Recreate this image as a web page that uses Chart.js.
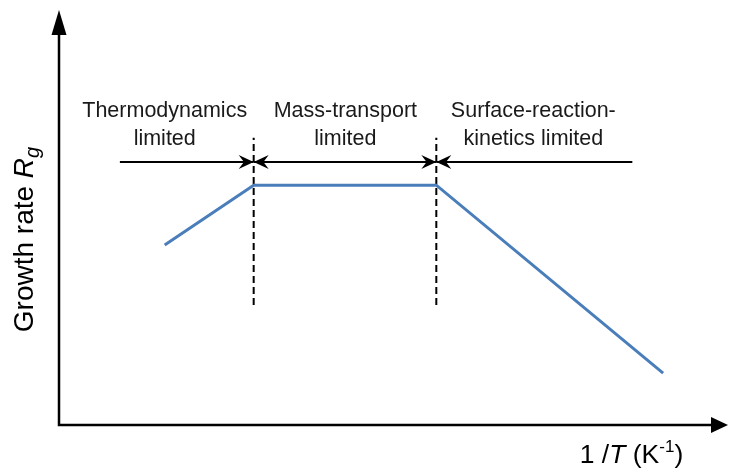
<!DOCTYPE html>
<html lang="en">

<head>
    <meta charset="UTF-8">
    <title>Growth rate regimes</title>

    <!-- Chart.js -->
    <script src="https://cdn.jsdelivr.net/npm/chart.js"></script>

    <style>
        body {
            margin: 0;
            background: #ffffff;
        }

        .chart-container {
            position: relative;
            width: 729px;
            height: 471px;
        }
    </style>
</head>

<body>
    <div class="chart-container">
        <canvas id="growthChart"></canvas>
    </div>

    <script type="text/javascript">
        // Schematic data (arbitrary units, 0..10 on both axes)
        var lineX = [1.58, 2.91, 5.64, 9.03];
        var lineY = [4.34, 5.78, 5.78, 1.25];

        // Regime boundaries (dashed verticals)
        var boundaryX = [2.91, 5.64];
        var boundaryY = [2.89, 6.92];

        // Regime labels and their arrows
        var regionLines1 = ['Thermodynamics', 'Mass-transport', 'Surface-reaction-'];
        var regionLines2 = ['limited', 'limited', 'kinetics limited'];
        var regionLabelX = [1.58, 4.28, 7.09];
        var labelRowY = [7.57, 6.89];
        var arrowFrom = [0.91, 2.91, 5.64];
        var arrowTo = [2.91, 5.64, 8.57];
        var arrowHeads = ['end', 'both', 'start'];
        var arrowY = 6.34;

        var blue = '#4a7ebb';
        var font = '"Liberation Sans", Arial, sans-serif';

        var datasets = [{
            data: lineX.map(function (x, i) { return { x: x, y: lineY[i] }; }),
            borderColor: blue,
            borderWidth: 3,
            pointRadius: 0,
            showLine: true,
            tension: 0
        }];
        boundaryX.forEach(function (bx) {
            datasets.push({
                data: [{ x: bx, y: boundaryY[0] }, { x: bx, y: boundaryY[1] }],
                borderColor: '#000000',
                borderWidth: 2,
                borderDash: [7, 4],
                pointRadius: 0,
                showLine: true
            });
        });

        // Arrowhead with a notched back, tip at (x, y), pointing along dir (+1 right / -1 left)
        function arrowHead(ctx, x, y, dir, len, half) {
            ctx.beginPath();
            ctx.moveTo(x, y);
            ctx.lineTo(x - dir * len, y - half);
            ctx.lineTo(x - dir * len * 0.65, y);
            ctx.lineTo(x - dir * len, y + half);
            ctx.closePath();
            ctx.fill();
        }

        var schematicPlugin = {
            id: 'schematic',
            afterDatasetsDraw: function (chart) {
                var ctx = chart.ctx;
                var xs = chart.scales.x;
                var ys = chart.scales.y;
                var area = chart.chartArea;
                ctx.save();
                ctx.fillStyle = '#000000';
                ctx.strokeStyle = '#000000';

                // Axes with arrows
                ctx.lineWidth = 2.5;
                ctx.beginPath();
                ctx.moveTo(area.left, area.top + 20);
                ctx.lineTo(area.left, area.bottom);
                ctx.lineTo(area.right - 15, area.bottom);
                ctx.stroke();
                ctx.beginPath();
                ctx.moveTo(area.left, area.top);
                ctx.lineTo(area.left - 7.5, area.top + 25);
                ctx.lineTo(area.left + 7.5, area.top + 25);
                ctx.closePath();
                ctx.fill();
                ctx.beginPath();
                ctx.moveTo(area.right, area.bottom);
                ctx.lineTo(area.right - 17, area.bottom - 8);
                ctx.lineTo(area.right - 17, area.bottom + 8);
                ctx.closePath();
                ctx.fill();

                // Regime arrows
                var ay = ys.getPixelForValue(arrowY);
                ctx.lineWidth = 2;
                for (var i = 0; i < arrowFrom.length; i++) {
                    var x0 = xs.getPixelForValue(arrowFrom[i]);
                    var x1 = xs.getPixelForValue(arrowTo[i]);
                    ctx.beginPath();
                    ctx.moveTo(x0, ay);
                    ctx.lineTo(x1, ay);
                    ctx.stroke();
                    if (arrowHeads[i] === 'end' || arrowHeads[i] === 'both') {
                        arrowHead(ctx, x1, ay, 1, 15, 7);
                    }
                    if (arrowHeads[i] === 'start' || arrowHeads[i] === 'both') {
                        arrowHead(ctx, x0, ay, -1, 15, 7);
                    }
                }

                // Regime labels
                ctx.fillStyle = '#1a1a1a';
                ctx.font = '21.5px ' + font;
                ctx.textAlign = 'center';
                ctx.textBaseline = 'middle';
                for (var j = 0; j < regionLines1.length; j++) {
                    var lx = xs.getPixelForValue(regionLabelX[j]);
                    ctx.fillText(regionLines1[j], lx, ys.getPixelForValue(labelRowY[0]));
                    ctx.fillText(regionLines2[j], lx, ys.getPixelForValue(labelRowY[1]));
                }

                // Axis titles
                ctx.fillStyle = '#000000';
                ctx.textAlign = 'left';
                ctx.textBaseline = 'alphabetic';

                // y title: Growth rate R_g (rotated)
                var yParts = [
                    { t: 'Growth rate ', f: '28px ' + font, dy: 0 },
                    { t: 'R', f: 'italic 28px ' + font, dy: 0 },
                    { t: 'g', f: 'italic 20px ' + font, dy: 6 }
                ];
                ctx.save();
                ctx.translate(area.left - 26, (area.top + area.bottom) / 2 + 22);
                ctx.rotate(-Math.PI / 2);
                drawParts(ctx, yParts);
                ctx.restore();

                // x title: 1 /T (K^-1)
                var xParts = [
                    { t: '1 /', f: '26.5px ' + font, dy: 0 },
                    { t: 'T', f: 'italic 26.5px ' + font, dy: 0 },
                    { t: ' (K', f: '26.5px ' + font, dy: 0 },
                    { t: '-1', f: '17px ' + font, dy: -11 },
                    { t: ')', f: '26.5px ' + font, dy: 0 }
                ];
                ctx.save();
                ctx.translate((area.left + area.right) / 2 + 238, area.bottom + 38);
                drawParts(ctx, xParts);
                ctx.restore();

                ctx.restore();
            }
        };

        // Draws rich text pieces centred on the origin
        function drawParts(ctx, parts) {
            var total = 0;
            parts.forEach(function (p) {
                ctx.font = p.f;
                p.w = ctx.measureText(p.t).width;
                total += p.w;
            });
            var x = -total / 2;
            parts.forEach(function (p) {
                ctx.font = p.f;
                ctx.fillText(p.t, x, p.dy);
                x += p.w;
            });
        }

        var ctx = document.getElementById('growthChart').getContext('2d');
        var growthChart = new Chart(ctx, {
            type: 'scatter',
            data: { datasets: datasets },
            options: {
                responsive: true,
                maintainAspectRatio: false,
                animation: false,
                layout: {
                    padding: { left: 59, right: 1, top: 10, bottom: 46 }
                },
                plugins: {
                    legend: { display: false },
                    tooltip: { enabled: false }
                },
                scales: {
                    x: { type: 'linear', min: 0, max: 10, display: false },
                    y: { type: 'linear', min: 0, max: 10, display: false }
                }
            },
            plugins: [schematicPlugin]
        });
    </script>

</body>

</html>
